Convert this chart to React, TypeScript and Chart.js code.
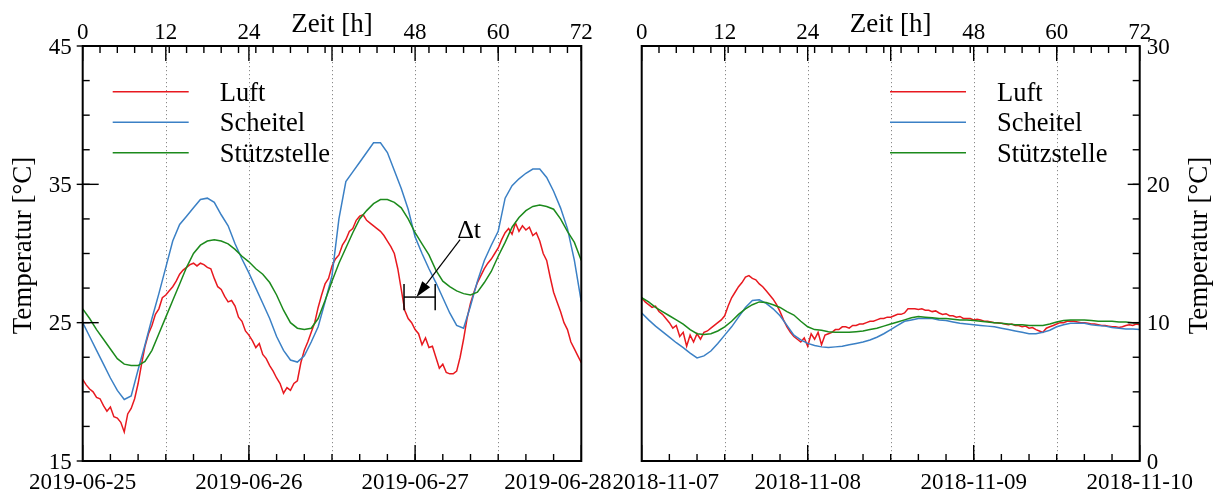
import React, { useEffect, useRef } from 'react';
import { Chart, registerables } from 'chart.js';

Chart.register(...registerables);

// ---------------- data ----------------
const SERIES_LABELS = ['Luft', 'Scheitel', 'Stützstelle'];
const SERIES_COLORS = ['#e8191f', '#3b80c5', '#1c8a1c'];

const HOUR_TICKS = [0, 12, 24, 36, 48, 60, 72];
const HOUR_LABELS = [0, 12, 24, 48, 60, 72]; // 36 h is covered by the axis title
const GRID_HOURS = [12, 24, 36, 48, 60];
const DATE_TICK_HOURS = [0, 24, 48, 72];
const DATES_SUMMER = ['2019-06-25', '2019-06-26', '2019-06-27', '2019-06-28'];
const DATES_AUTUMN = ['2018-11-07', '2018-11-08', '2018-11-09', '2018-11-10'];
const Y_TICKS_SUMMER = [15, 25, 35, 45];
const Y_TICKS_AUTUMN = [0, 10, 20, 30];
const TOP_MINOR_STEP = 2.5; // h
const BOTTOM_MINOR_STEP = 4; // h
const Y_MINOR_STEP = 2.5; // °C

// half-hourly air temperature (0 .. 72 h)
const SUMMER_LUFT = [
  20.9, 20.5, 20.2, 20.0, 19.6, 19.5, 19.0, 18.6, 18.9, 18.2, 18.1, 17.8, 17.1, 18.4, 18.8, 19.5,
  20.6, 22.0, 23.3, 24.2, 24.8, 25.6, 26.0, 26.8, 27.0, 27.3, 27.6, 28.0, 28.5, 28.8, 29.0, 29.2,
  29.3, 29.1, 29.3, 29.2, 29.0, 28.9, 28.2, 27.6, 27.4, 26.9, 26.5, 26.6, 26.2, 25.4, 25.1, 24.4,
  24.1, 23.7, 23.2, 23.5, 22.7, 22.4, 21.9, 21.5, 21.0, 20.6, 19.9, 20.3, 20.1, 20.6, 20.8, 22.1,
  23.0, 23.6, 24.3, 25.0, 26.1, 27.0, 27.8, 28.2, 29.1, 29.6, 29.9, 30.6, 31.0, 31.6, 31.8, 32.4,
  32.7, 32.8, 32.4, 32.2, 32.0, 31.8, 31.6, 31.3, 30.9, 30.5, 30.0, 28.9, 27.4, 25.9, 25.3, 25.0,
  24.5, 24.2, 23.4, 23.9, 23.2, 23.3, 22.5, 21.7, 22.0, 21.4, 21.3, 21.3, 21.5, 22.5, 23.8, 25.3,
  26.4, 27.2, 27.9, 28.4, 28.9, 29.3, 29.6, 30.0, 30.4, 31.0, 31.5, 31.8, 31.4, 32.2, 31.6, 32.0,
  31.7, 31.9, 31.3, 31.5, 30.9, 30.0, 29.5, 28.3, 27.2, 26.5, 25.8, 25.0, 24.5, 23.6, 23.1, 22.6,
  22.1,
];
// hourly (0 .. 72 h)
const SUMMER_SCHEITEL = [
  25.0, 24.0, 23.0, 22.0, 21.0, 20.1, 19.45, 19.7, 21.6, 23.4, 25.3, 27.1, 29.0, 30.9, 32.1, 32.7,
  33.3, 33.9, 34.0, 33.7, 32.8, 32.0, 30.7, 29.6, 28.6, 27.5, 26.4, 25.3, 24.0, 23.0, 22.3, 22.15,
  22.6, 23.6, 24.7, 26.5, 28.4, 32.5, 35.2, 35.9, 36.6, 37.3, 38.0, 38.0, 37.3, 36.0, 34.7, 33.2,
  31.2, 30.0, 28.9, 27.9, 26.8, 25.7, 24.8, 24.6, 26.2, 28.0, 29.5, 30.6, 31.6, 34.0, 34.9, 35.4,
  35.8, 36.1, 36.1, 35.5, 34.5, 33.3, 31.8, 29.5, 26.5,
];
const SUMMER_STUETZ = [
  26.0, 25.3, 24.5, 23.8, 23.1, 22.4, 22.0, 21.9, 21.9, 22.2, 23.0, 24.2, 25.4, 26.6, 27.8, 29.0,
  30.0, 30.6, 30.9, 31.0, 30.9, 30.7, 30.3, 29.8, 29.4, 28.9, 28.5, 27.9, 27.0, 25.9, 25.0, 24.6,
  24.5, 24.6, 25.3, 26.6, 28.0, 29.3, 30.4, 31.5, 32.5, 33.1, 33.6, 33.9, 33.9, 33.7, 33.3, 32.5,
  31.5, 30.7, 29.9, 28.8, 28.0, 27.6, 27.3, 27.1, 27.0, 27.2, 27.9, 28.7, 29.8, 30.8, 31.9, 32.6,
  33.1, 33.4, 33.5, 33.4, 33.2, 32.5, 31.6, 30.8, 29.5,
];

const AUTUMN_LUFT = [
  11.8, 11.5, 11.3, 11.1, 11.2, 10.8, 10.6, 10.3, 10.0, 9.6, 9.8, 9.0, 9.3, 8.3, 9.1, 8.6,
  9.2, 8.8, 9.3, 9.4, 9.6, 9.8, 10.0, 10.2, 10.5, 11.2, 11.8, 12.2, 12.6, 12.9, 13.3, 13.4,
  13.2, 13.1, 12.8, 12.6, 12.3, 12.0, 11.7, 11.3, 10.8, 10.2, 9.7, 9.3, 9.0, 8.8, 8.6, 8.9,
  8.3, 9.2, 8.8, 9.3, 8.4, 9.1, 9.2, 9.3, 9.5, 9.5, 9.7, 9.7, 9.6, 9.8, 9.8, 9.9,
  9.9, 10.0, 10.1, 10.1, 10.2, 10.3, 10.3, 10.4, 10.4, 10.5, 10.6, 10.6, 10.7, 11.0, 11.0, 11.0,
  10.95, 11.0, 10.9, 10.9, 10.8, 10.85, 10.7, 10.6, 10.65, 10.5, 10.5, 10.4, 10.45, 10.3, 10.3, 10.3,
  10.2, 10.25, 10.2, 10.1, 10.1, 10.05, 10.0, 10.0, 9.95, 9.9, 9.85, 9.9, 9.8, 9.8, 9.7, 9.75,
  9.6, 9.65, 9.5, 9.4, 9.3, 9.6, 9.7, 9.8, 9.9, 10.0, 10.0, 10.1, 10.1, 10.1, 10.05, 10.0,
  10.0, 9.95, 9.9, 9.9, 9.85, 9.8, 9.8, 9.75, 9.7, 9.7, 9.65, 9.7, 9.8, 9.85, 9.8, 9.9,
  9.85,
];
const AUTUMN_SCHEITEL = [
  10.7, 10.2, 9.75, 9.35, 8.95, 8.55, 8.2, 7.8, 7.45, 7.6, 7.95, 8.5, 9.1, 9.7, 10.4, 11.1,
  11.6, 11.65, 11.4, 11.0, 10.5, 9.8, 9.1, 8.75, 8.5, 8.35, 8.25, 8.2, 8.25, 8.3, 8.4, 8.5,
  8.6, 8.75, 8.95, 9.2, 9.5, 9.8, 10.1, 10.2, 10.3, 10.3, 10.3, 10.2, 10.15, 10.05, 9.95, 9.9,
  9.85, 9.8, 9.75, 9.7, 9.6, 9.5, 9.4, 9.3, 9.2, 9.2, 9.3, 9.45, 9.7, 9.85, 9.95, 9.95,
  9.95, 9.85, 9.8, 9.75, 9.65, 9.6, 9.55, 9.55, 9.5,
];
const AUTUMN_STUETZ = [
  11.8, 11.5, 11.1, 10.8, 10.5, 10.2, 9.9, 9.5, 9.2, 9.15, 9.2, 9.4, 9.7, 10.1, 10.6, 11.0,
  11.3, 11.5, 11.45, 11.3, 11.1, 10.8, 10.55, 10.1, 9.7, 9.5, 9.45, 9.35, 9.3, 9.3, 9.3, 9.35,
  9.4, 9.5, 9.6, 9.75, 9.9, 10.05, 10.2, 10.35, 10.45, 10.4, 10.35, 10.3, 10.3, 10.25, 10.2, 10.2,
  10.15, 10.1, 10.05, 10.0, 9.95, 9.9, 9.85, 9.85, 9.8, 9.8, 9.8, 9.9, 10.05, 10.15, 10.2, 10.2,
  10.2, 10.15, 10.1, 10.1, 10.1, 10.05, 10.05, 10.0, 10.0,
];

// Δt annotation (data units of the summer panel)
const DELTA_BRACKET = { x0: 46.4, x1: 50.9, y: 26.85, half: 0.95 };
const DELTA_ARROW = { fromX: 54.5, fromY: 31.0, toX: 48.2, toY: 26.85 };
const DELTA_LABEL = { x: 55.8, y: 31.1, text: 'Δt' };

// ---------------- drawing helpers ----------------
const FONT = '"Liberation Serif", "Times New Roman", serif';

if (typeof document !== 'undefined') {
  document.body.style.margin = '0';
  document.body.style.overflow = 'hidden';
}

function toPoints(values: number[], stepHours: number) {
  return values.map((v, i) => ({ x: i * stepHours, y: v }));
}

interface PanelSpec {
  side: 'left' | 'right';
  width: number;
  height: number;
  padding: { left: number; right: number; top: number; bottom: number };
  luft: number[];
  scheitel: number[];
  stuetz: number[];
  yMin: number;
  yMax: number;
  yTicks: number[];
  dates: string[];
  legendX: number;
  annotate: boolean;
}

function makeDecoPlugin(spec: PanelSpec) {
  return {
    id: 'deco',
    beforeDatasetsDraw(chart: any) {
      const { ctx, chartArea: a, scales } = chart;
      const xs = scales.x;
      ctx.save();
      ctx.strokeStyle = '#8a8a8a';
      ctx.lineWidth = 1;
      ctx.setLineDash([1.2, 2.8]);
      for (const h of GRID_HOURS) {
        const px = Math.round(xs.getPixelForValue(h)) + 0.5;
        ctx.beginPath();
        ctx.moveTo(px, a.top);
        ctx.lineTo(px, a.bottom);
        ctx.stroke();
      }
      ctx.restore();
    },
    afterDraw(chart: any) {
      const { ctx, chartArea: a, scales } = chart;
      const xs = scales.x;
      const ys = scales.y;
      ctx.save();
      ctx.setLineDash([]);
      ctx.strokeStyle = '#000';
      ctx.fillStyle = '#000';
      ctx.lineWidth = 1.4;
      const seg = (x1: number, y1: number, x2: number, y2: number) => {
        ctx.beginPath();
        ctx.moveTo(x1, y1);
        ctx.lineTo(x2, y2);
        ctx.stroke();
      };
      // top axis ticks (hours)
      for (let h = TOP_MINOR_STEP; h < 72; h += TOP_MINOR_STEP) {
        const px = xs.getPixelForValue(h);
        seg(px, a.top, px, a.top + 7);
      }
      for (const h of HOUR_TICKS) {
        const px = xs.getPixelForValue(h);
        seg(px, a.top, px, a.top + 15);
      }
      // bottom axis ticks (dates)
      for (let h = BOTTOM_MINOR_STEP; h < 72; h += BOTTOM_MINOR_STEP) {
        const px = xs.getPixelForValue(h);
        seg(px, a.bottom, px, a.bottom - 7);
      }
      for (const h of DATE_TICK_HOURS) {
        const px = xs.getPixelForValue(h);
        seg(px, a.bottom, px, a.bottom - 16);
      }
      // y ticks
      const left = spec.side === 'left';
      const yx = left ? a.left : a.right;
      const dir = left ? 1 : -1;
      for (let v = spec.yMin + Y_MINOR_STEP; v < spec.yMax; v += Y_MINOR_STEP) {
        const py = ys.getPixelForValue(v);
        seg(yx, py, yx + dir * 7, py);
      }
      for (const v of spec.yTicks) {
        const py = ys.getPixelForValue(v);
        seg(yx - (left ? dir * 6 : 0), py, yx + dir * (left ? 16 : 12), py);
      }
      // frame
      ctx.lineWidth = 2;
      ctx.strokeRect(a.left, a.top, a.right - a.left, a.bottom - a.top);

      // tick labels
      ctx.font = `23px ${FONT}`;
      ctx.textBaseline = 'alphabetic';
      ctx.textAlign = 'center';
      HOUR_LABELS.forEach((h) => {
        ctx.fillText(String(h), xs.getPixelForValue(h), a.top - 7.5);
      });
      spec.dates.forEach((d, i) => {
        const h = DATE_TICK_HOURS[i];
        let x = xs.getPixelForValue(h);
        if (left && i === spec.dates.length - 1) {
          ctx.textAlign = 'right';
          x = chart.width - 0.5;
        } else if (!left && i === 0) {
          ctx.textAlign = 'left';
          x = 0.5;
        } else {
          ctx.textAlign = 'center';
        }
        ctx.fillText(d, x, a.bottom + 28);
      });
      ctx.textAlign = left ? 'right' : 'left';
      for (const v of spec.yTicks) {
        const py = ys.getPixelForValue(v);
        ctx.fillText(String(v), left ? a.left - 11 : a.right + 7, py + 7.8);
      }

      // axis titles
      ctx.font = `27px ${FONT}`;
      ctx.textAlign = 'center';
      ctx.fillText('Zeit [h]', (a.left + a.right) / 2, a.top - 14);
      ctx.save();
      const tx = left ? 31 : chart.width - 6;
      ctx.translate(tx, (a.top + a.bottom) / 2 - 8);
      ctx.rotate(-Math.PI / 2);
      ctx.fillText('Temperatur [°C]', 0, 0);
      ctx.restore();

      // legend
      ctx.font = `26.5px ${FONT}`;
      ctx.textAlign = 'left';
      ctx.lineWidth = 1.5;
      SERIES_LABELS.forEach((lab, i) => {
        const y = 91.7 + i * 30.5;
        ctx.strokeStyle = SERIES_COLORS[i];
        seg(spec.legendX, y, spec.legendX + 76, y);
        ctx.fillStyle = '#000';
        ctx.fillText(lab, spec.legendX + 107, y + 8.8);
      });

      // Δt annotation
      if (spec.annotate) {
        ctx.strokeStyle = '#000';
        ctx.fillStyle = '#000';
        ctx.lineWidth = 1.5;
        const bx0 = xs.getPixelForValue(DELTA_BRACKET.x0);
        const bx1 = xs.getPixelForValue(DELTA_BRACKET.x1);
        const by = ys.getPixelForValue(DELTA_BRACKET.y);
        const byt = ys.getPixelForValue(DELTA_BRACKET.y + DELTA_BRACKET.half);
        const byb = ys.getPixelForValue(DELTA_BRACKET.y - DELTA_BRACKET.half);
        seg(bx0, by, bx1, by);
        seg(bx0, byt, bx0, byb);
        seg(bx1, byt, bx1, byb);
        const ax0 = xs.getPixelForValue(DELTA_ARROW.fromX);
        const ay0 = ys.getPixelForValue(DELTA_ARROW.fromY);
        const ax1 = xs.getPixelForValue(DELTA_ARROW.toX);
        const ay1 = ys.getPixelForValue(DELTA_ARROW.toY);
        const ang = Math.atan2(ay1 - ay0, ax1 - ax0);
        const headLen = 16;
        const headW = 5;
        const bxh = ax1 - headLen * Math.cos(ang);
        const byh = ay1 - headLen * Math.sin(ang);
        ctx.lineWidth = 1.2;
        seg(ax0, ay0, bxh, byh);
        ctx.beginPath();
        ctx.moveTo(ax1, ay1);
        ctx.lineTo(bxh + headW * Math.sin(ang), byh - headW * Math.cos(ang));
        ctx.lineTo(bxh - headW * Math.sin(ang), byh + headW * Math.cos(ang));
        ctx.closePath();
        ctx.fill();
        ctx.font = `26px ${FONT}`;
        ctx.textAlign = 'center';
        ctx.fillText(DELTA_LABEL.text, xs.getPixelForValue(DELTA_LABEL.x), ys.getPixelForValue(DELTA_LABEL.y));
      }
      ctx.restore();
    },
  };
}

function Panel({ spec, style }: { spec: PanelSpec; style: React.CSSProperties }) {
  const ref = useRef<HTMLCanvasElement | null>(null);
  useEffect(() => {
    const canvas = ref.current;
    if (!canvas) return;
    const mk = (values: number[], step: number, i: number) => ({
      label: SERIES_LABELS[i],
      data: toPoints(values, step),
      borderColor: SERIES_COLORS[i],
      backgroundColor: SERIES_COLORS[i],
      borderWidth: 1.5,
      pointRadius: 0,
      tension: 0,
      fill: false,
    });
    const chart = new Chart(canvas, {
      type: 'line',
      data: {
        datasets: [mk(spec.stuetz, 1, 2), mk(spec.scheitel, 1, 1), mk(spec.luft, 0.5, 0)],
      },
      options: {
        animation: false,
        responsive: false,
        maintainAspectRatio: false,
        devicePixelRatio: 1,
        layout: { padding: spec.padding },
        plugins: { legend: { display: false }, tooltip: { enabled: false } },
        scales: {
          x: { type: 'linear', min: 0, max: 72, display: false },
          y: { type: 'linear', min: spec.yMin, max: spec.yMax, display: false },
        },
        events: [],
      },
      plugins: [makeDecoPlugin(spec)],
    } as any);
    return () => chart.destroy();
  }, [spec]);
  return <canvas ref={ref} width={spec.width} height={spec.height} style={style} />;
}

const SUMMER_SPEC: PanelSpec = {
  side: 'left',
  width: 612,
  height: 492,
  padding: { left: 82.7, right: 30.7, top: 46, bottom: 31 },
  luft: SUMMER_LUFT,
  scheitel: SUMMER_SCHEITEL,
  stuetz: SUMMER_STUETZ,
  yMin: 15,
  yMax: 45,
  yTicks: Y_TICKS_SUMMER,
  dates: DATES_SUMMER,
  legendX: 112.7,
  annotate: true,
};

const AUTUMN_SPEC: PanelSpec = {
  side: 'right',
  width: 601,
  height: 492,
  padding: { left: 29.7, right: 73.3, top: 46, bottom: 31 },
  luft: AUTUMN_LUFT,
  scheitel: AUTUMN_SCHEITEL,
  stuetz: AUTUMN_STUETZ,
  yMin: 0,
  yMax: 30,
  yTicks: Y_TICKS_AUTUMN,
  dates: DATES_AUTUMN,
  legendX: 278,
  annotate: false,
};

export default function App() {
  return (
    <div style={{ position: 'relative', width: 1213, height: 492, overflow: 'hidden' }}>
      <Panel spec={SUMMER_SPEC} style={{ position: 'absolute', left: 0, top: 0, display: 'block' }} />
      <Panel spec={AUTUMN_SPEC} style={{ position: 'absolute', left: 612, top: 0, display: 'block' }} />
    </div>
  );
}
